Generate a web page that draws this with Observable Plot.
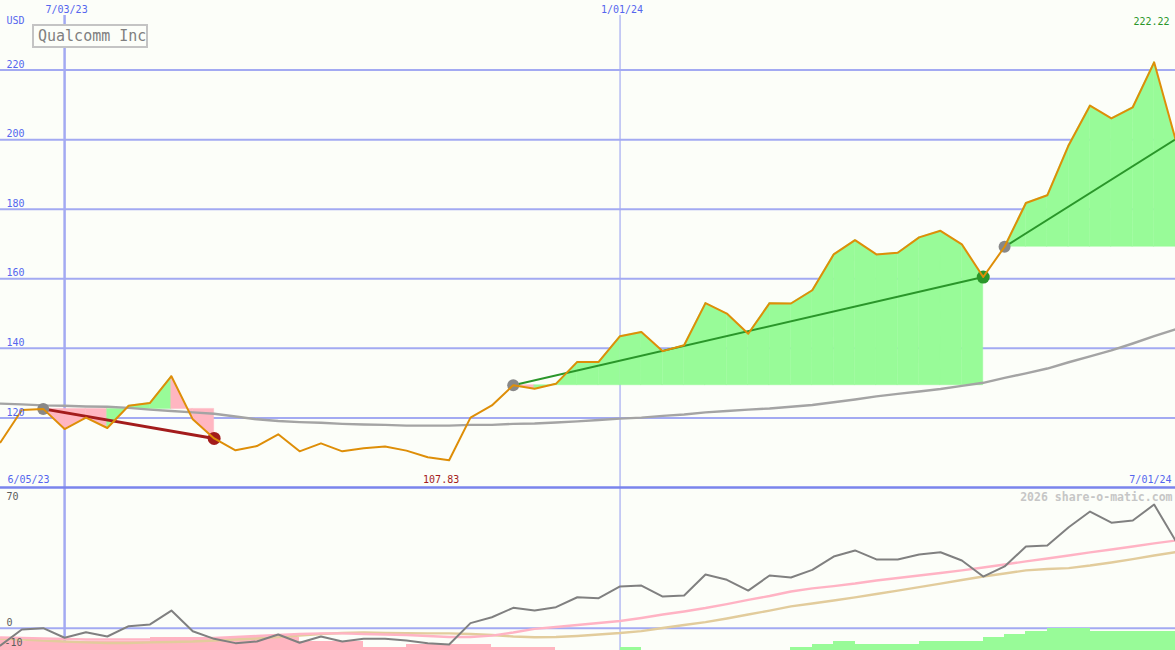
<!DOCTYPE html>
<html>
<head>
<meta charset="utf-8">
<script src="https://cdn.jsdelivr.net/npm/d3@7"></script>
<script src="https://cdn.jsdelivr.net/npm/@observablehq/plot@0.6"></script>
<style>
html, body { margin: 0; padding: 0; background: #fcfef9; }
#chart { position: relative; width: 1175px; height: 650px; overflow: hidden; background: #fcfef9; }
#title { position: absolute; left: 32px; top: 24px; width: 116px; height: 24px; box-sizing: border-box;
  border: 2px solid #c4c4c4; background: #fcfef9; color: #808080; padding-left: 4px; white-space: nowrap;
  font: 15px/20px "DejaVu Sans Mono", monospace; }
</style>
</head>
<body>
<div id="chart"></div>
<script>
// ---------- data ----------
const weekStart = "2023-06-12";
const price = [113.0,122.3,122.6,116.8,120.1,117.1,123.5,124.3,132.0,119.6,
  114.1,110.7,111.9,115.3,110.4,112.7,110.4,111.3,111.8,110.6,
  108.7,107.83,120.1,123.6,129.4,128.4,129.8,136.1,136.1,143.5,
  144.7,139.2,140.9,153.0,150.0,144.2,153.0,152.9,156.7,167.0,
  171.1,167.0,167.5,171.9,173.8,169.9,160.5,169.2,181.8,184.0,
  198.4,209.8,206.1,209.3,222.22,200.1];
const priceMA = [124.1,123.9,123.6,123.5,123.3,123.2,122.9,122.4,122.0,121.6,
  121.2,120.4,119.6,119.1,118.8,118.6,118.3,118.1,118.0,117.8,
  117.8,117.8,118.0,118.0,118.3,118.4,118.7,119.0,119.4,119.8,
  120.1,120.6,121.0,121.6,122.0,122.4,122.7,123.2,123.7,124.5,
  125.3,126.2,126.9,127.6,128.3,129.2,130.1,131.5,132.8,134.2,
  136.0,137.7,139.4,141.4,143.5,145.5];
const osc = [-9.6,-0.7,0,-5.3,-2.2,-4.6,1.1,2.1,9.8,-1.7,
  -5.9,-8.3,-7.4,-3.5,-8.1,-4.6,-7.4,-5.9,-5.9,-6.8,
  -8.3,-9.1,2.8,6.1,11.3,9.8,11.7,17.2,16.7,23.2,
  23.7,17.6,18.2,29.8,26.9,20.9,29.3,28.2,32.4,39.8,
  43.2,38.2,38.2,40.9,42.2,37.6,28.7,34.3,45.4,45.9,
  56.1,64.8,58.6,59.8,68.7,48.7];
const oscPink = [-5.2,-5.4,-5.7,-6.0,-6.3,-6.3,-6.3,-6.3,-6.0,-5.7,
  -5.4,-4.9,-4.3,-3.8,-3.2,-2.9,-2.9,-3.2,-3.5,-3.8,
  -4.3,-4.9,-4.9,-4.1,-2.4,-0.4,0.7,1.8,2.9,4.0,
  5.7,7.6,9.3,11.2,13.4,15.7,17.9,20.4,22.1,23.4,
  24.8,26.5,27.9,29.3,30.7,32.1,33.7,35.4,37.1,38.7,
  40.4,42.1,43.7,45.4,47.1,48.7];
const oscTan = [-5.7,-6.3,-6.8,-7.4,-7.9,-8.2,-8.2,-7.9,-7.7,-7.4,
  -6.8,-6.3,-5.7,-4.9,-4.1,-3.2,-2.7,-2.4,-2.6,-2.8,
  -2.9,-2.9,-3.2,-3.8,-4.6,-5.0,-4.9,-4.3,-3.5,-2.7,
  -1.6,0.1,1.8,3.4,5.4,7.6,9.8,12.1,13.7,15.4,
  17.1,19.0,20.9,22.8,24.8,26.8,28.7,30.4,32.1,32.9,
  33.4,34.8,36.5,38.4,40.4,42.2];
// weekly trend-strength bars (one per week interval; negative = pink, positive = green)
const bars = [-4,-3,-3,-3,-3,-3,-3,-4,-4,-4,
  -4,-4,-4,-4,-3,-3,-3,-1,-1,-2,
  -2,-2,-2,-1,-1,-1,0,0,0,1,
  0,0,0,0,0,0,0,1,2,3,
  2,2,2,3,3,3,4,5,6,7,
  7,6,6,6,6];
const trendStart = ["2023-06-26", "2023-11-27", "2024-05-06"];
const trendEnd = ["2023-08-21", "2024-04-29", "2024-07-01"];
const trendClosed = [true, true, false];

const priceTicks = [120, 140, 160, 180, 200, 220];
const oscTicks = [70, 0];
const oscLowTicks = [-10];
const dateTicks = ["2023-07-03", "2024-01-01"];
const dateTickLabels = ["7/03/23", "1/01/24"];
const firstLabel = "6/05/23";
const lastLabel = "7/01/24";
const unitLabel = "USD";
const titleText = "Qualcomm Inc";
const credit = "2026 share-o-matic.com";

// ---------- styles ----------
const BG = "#fcfef9";
const GRID = "#a3aaf2";
const BORDER = "#7a84ec";
const BLUE = "#5566ee";
const ORANGE = "#de8e08";
const MA_GRAY = "#a4a4a4";
const GREEN_FILL = "#98fb98";
const PINK_FILL = "#ffb6c1";
const GREEN_LINE = "#2a962a";
const RED_LINE = "#a31c1c";
const FONT = "DejaVu Sans Mono";

// ---------- derived tables ----------
const utc = s => new Date(s + "T00:00:00Z");
const dates = price.map((_, i) => d3.utcDay.offset(utc(weekStart), 7 * i));
const tickDates = dateTicks.map(utc);
const idx = s => dates.findIndex(d => +d === +utc(s));
const series = price.map((p, i) => ({date: dates[i], price: p, ma: priceMA[i], osc: osc[i], pink: oscPink[i], tan: oscTan[i]}));

const fills = [], trendUp = [], trendDown = [], startDots = [], endDots = [];
trendStart.forEach((s, t) => {
  const a = idx(s), b = idx(trendEnd[t]);
  const base = price[a];
  const up = price[b] >= base;
  for (let k = a; k < b; k++) {
    const col = price[k + 1] >= base ? GREEN_FILL : PINK_FILL;
    fills.push({id: t + "-" + k, date: dates[k], base, price: price[k], col});
    fills.push({id: t + "-" + k, date: dates[k + 1], base, price: price[k + 1], col});
  }
  const seg = [{id: t, date: dates[a], v: base}, {id: t, date: dates[b], v: price[b]}];
  (up ? trendUp : trendDown).push(...seg);
  startDots.push({date: dates[a], v: base});
  if (trendClosed[t]) endDots.push({date: dates[b], v: price[b], col: up ? GREEN_LINE : RED_LINE});
});
const barData = bars.map((v, i) => ({d0: dates[i], d1: dates[i + 1], n: Math.abs(v), col: v >= 0 ? GREEN_FILL : PINK_FILL})).filter(d => d.n > 0);
const minI = d3.minIndex(price), maxI = d3.maxIndex(price);

const xOpt = {type: "utc", domain: [dates[0], dates[dates.length - 1]], axis: null};
const svgStyle = top => ({background: "transparent", position: "absolute", left: "0px", top: top + "px", overflow: "visible", fontFamily: FONT});
const txt = {fontFamily: FONT, fontSize: 10, lineAnchor: "bottom"};

// ---------- lower panel: grid ----------
const oscDomain = [-12.39, 78.17];
const lowerGrid = Plot.plot({
  width: 1175, height: 163, margin: 0, style: svgStyle(487),
  x: xOpt, y: {domain: oscDomain, axis: null},
  marks: [
    Plot.ruleY([0], {stroke: GRID, strokeWidth: 2}),
    Plot.ruleX([tickDates[0]], {stroke: GRID, strokeWidth: 2.5}),
    Plot.ruleX([tickDates[1]], {stroke: GRID, strokeWidth: 1.2})
  ]
});

// ---------- lower panel: bars ----------
const barPlot = Plot.plot({
  width: 1175, height: 163, margin: 0, style: svgStyle(487),
  x: xOpt, y: {domain: [0, 51.75], axis: null},
  color: {type: "identity"},
  marks: [
    Plot.rectY(barData, {x1: "d0", x2: "d1", y1: 0, y2: "n", fill: "col", inset: 0, shapeRendering: "crispEdges"})
  ]
});

// ---------- lower panel: lines ----------
const lowerLines = Plot.plot({
  width: 1175, height: 163, margin: 0, style: svgStyle(487),
  x: xOpt, y: {domain: oscDomain, axis: null},
  marks: [
    Plot.line(series, {x: "date", y: "tan", stroke: "#e2cc9c", strokeWidth: 2.4}),
    Plot.line(series, {x: "date", y: "pink", stroke: "#ffb3c4", strokeWidth: 2.4}),
    Plot.line(series, {x: "date", y: "osc", stroke: "#808080", strokeWidth: 2}),
    Plot.text(oscTicks, {...txt, y: d => d, text: d => String(d), frameAnchor: "left", dx: 6, dy: -2.2, textAnchor: "start", fill: "#5c5c5c"}),
    Plot.text(oscLowTicks, {...txt, y: d => d, text: d => String(d), frameAnchor: "left", dx: 4, dy: 0, textAnchor: "start", fill: "#5c5c5c"}),
    Plot.text([credit], {fontFamily: FONT, fontSize: 11.5, fontWeight: "bold", lineAnchor: "bottom", frameAnchor: "top-right", dx: -3, dy: 13.3, textAnchor: "end", fill: "#c6c6c6"})
  ]
});

// ---------- main price panel ----------
const main = Plot.plot({
  width: 1175, height: 490, marginTop: 0, marginBottom: 3, marginLeft: 0, marginRight: 0,
  style: svgStyle(0),
  x: xOpt, y: {domain: [100, 240], axis: null},
  color: {type: "identity"},
  marks: [
    Plot.ruleY(priceTicks, {stroke: GRID, strokeWidth: 2}),
    Plot.ruleX([tickDates[0]], {stroke: GRID, strokeWidth: 2.5, insetTop: 15}),
    Plot.ruleX([tickDates[1]], {stroke: GRID, strokeWidth: 1.2, insetTop: 15}),
    Plot.areaY(fills, {x: "date", y1: "base", y2: "price", z: "id", fill: "col", stroke: "col", strokeWidth: 0.5}),
    Plot.line(series, {x: "date", y: "ma", stroke: MA_GRAY, strokeWidth: 2.4}),
    Plot.line(trendDown, {x: "date", y: "v", z: "id", stroke: RED_LINE, strokeWidth: 3}),
    Plot.line(trendUp, {x: "date", y: "v", z: "id", stroke: GREEN_LINE, strokeWidth: 2}),
    Plot.dot(startDots, {x: "date", y: "v", r: 6, fill: "#888888"}),
    Plot.dot(endDots, {x: "date", y: "v", r: 6.5, fill: "col"}),
    Plot.line(series, {x: "date", y: "price", stroke: ORANGE, strokeWidth: 2}),
    Plot.ruleY([100], {stroke: BORDER, strokeWidth: 2.5}),
    // texts
    Plot.text(priceTicks, {...txt, y: d => d, text: d => String(d), frameAnchor: "left", dx: 6, dy: -2.3, textAnchor: "start", fill: BLUE}),
    Plot.text(tickDates, {...txt, x: d => d, text: (d, i) => dateTickLabels[i], frameAnchor: "top", dy: 12.6, dx: 2, fill: BLUE}),
    Plot.text([unitLabel], {...txt, frameAnchor: "top-left", dx: 6, dy: 23.6, textAnchor: "start", fill: BLUE}),
    Plot.text([price[maxI]], {...txt, text: d => d.toFixed(2), frameAnchor: "top-right", dx: -6, dy: 24.6, textAnchor: "end", fill: GREEN_LINE}),
    Plot.text([price[minI]], {...txt, x: dates[minI], y: 100, text: d => d.toFixed(2), dx: -8, dy: -4.3, fill: RED_LINE}),
    Plot.text([firstLabel], {...txt, x: dates[0], y: 100, dx: 7, dy: -4.3, textAnchor: "start", fill: BLUE}),
    Plot.text([lastLabel], {...txt, x: dates[dates.length - 1], y: 100, dx: -4, dy: -4.3, textAnchor: "end", fill: BLUE})
  ]
});

const chart = document.getElementById("chart");
chart.append(lowerGrid, barPlot, lowerLines, main);
const title = document.createElement("div");
title.id = "title";
title.textContent = titleText;
chart.append(title);
</script>
</body>
</html>
